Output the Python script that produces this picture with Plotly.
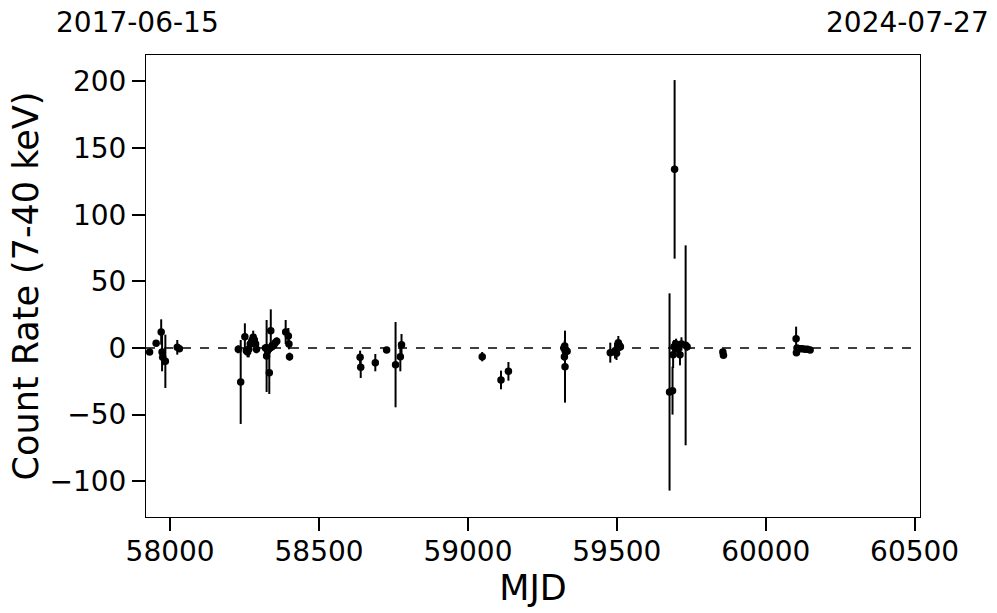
import plotly.graph_objects as go

mjd = [57931, 57953, 57970, 57973, 57975, 57984, 58024, 58031,
       58229, 58237, 58251, 58256, 58260, 58264, 58269, 58274, 58279, 58283, 58287, 58290,
       58320, 58324, 58327, 58333, 58335, 58338, 58342, 58348, 58353, 58358,
       58388, 58397, 58399, 58401,
       58638, 58640, 58689, 58727, 58757, 58773, 58777,
       59048, 59111, 59136,
       59322, 59324, 59325, 59326, 59327, 59333,
       59478, 59494, 59499, 59502, 59505, 59508, 59512,
       59677, 59687, 59689, 59692, 59694, 59699, 59705, 59712, 59717, 59731, 59736,
       59856, 59858, 60102, 60103, 60105, 60115, 60123, 60132, 60140, 60149]
rate = [-3, 3.5, 12, -3, -7, -10, 0.5, -0.5,
        -1, -25.5, 8.5, -2, -3, -1, 3, 5, 8, 6, 3, -1,
        0, -6, -2, -18.5, 0, 13, 1, 2, 4, 5,
        12, 9, 3, -6.5,
        -7, -14.5, -11, -1.5, -12.5, -6.5, 2.5,
        -6.5, -24, -17.5,
        0, -6.5, 1.5, -14, -2.5, -2.5,
        -3.5, -2, -4, 0, 4, 2, 1,
        -33, -32, -5, 1, 134, 3, -1, -5, 3, 2, 1,
        -3, -5.5, 7, -3.5, 0, -0.5, -0.5, -1, -1, -1.5]
rate_err = [2, 2, 9.5, 14.5, 6, 20, 5.5, 2,
            3, 31.5, 10, 3, 4, 6, 5, 4, 5, 3, 3, 3,
            3, 27, 5, 16, 4, 16, 3, 3, 3, 3,
            9, 6, 4, 3,
            5, 8, 6.5, 1.5, 32, 11, 8,
            3.5, 7, 7,
            3, 3, 4, 27, 3, 2,
            7.5, 6, 5, 4, 5, 3, 3,
            74, 18, 10, 5, 67, 4, 5, 8, 5, 75, 3,
            2, 2, 9, 2, 2, 2, 1.5, 1.5, 1.5, 1.5]

x_range = [57919, 60518]
y_range = [-126.8, 219.8]
top_labels = ["2017-06-15", "2024-07-27"]
x_ticks = [58000, 58500, 59000, 59500, 60000, 60500]
x_ticktext = ["58000", "58500", "59000", "59500", "60000", "60500"]
y_ticks = [-100, -50, 0, 50, 100, 150, 200]
y_ticktext = ["\u2212100", "\u221250", "0", "50", "100", "150", "200"]

fig = go.Figure()
fig.add_trace(go.Scatter(
    x=mjd, y=rate, mode="markers",
    marker=dict(color="black", size=7.5),
    error_y=dict(type="data", array=rate_err, visible=True, color="black",
                 thickness=2, width=0),
    showlegend=False,
))

fig.add_shape(type="line", xref="paper", yref="y", x0=0, x1=1, y0=0, y1=0,
              line=dict(color="black", width=1.3, dash="dash"))

fnt = "DejaVu Sans"
axis_common = dict(showline=True, linecolor="black", linewidth=1, mirror=True,
                   ticks="outside", ticklen=13, tickwidth=2, tickcolor="black",
                   showgrid=False, zeroline=False, automargin=False,
                   tickfont=dict(family=fnt, size=28, color="black"))
fig.update_xaxes(range=x_range, tickvals=x_ticks, ticktext=x_ticktext,
                 ticklabelstandoff=-4,
                 title=dict(text="MJD", font=dict(family=fnt, size=35, color="black"),
                            standoff=1),
                 **axis_common)
fig.update_yaxes(range=y_range, tickvals=y_ticks, ticktext=y_ticktext,
                 title=dict(text="Count Rate (7-40 keV)",
                            font=dict(family=fnt, size=35, color="black"), standoff=0),
                 **axis_common)

fig.add_annotation(x=x_range[0], y=1, xref="x", yref="paper", text=top_labels[0],
                   showarrow=False, yanchor="bottom", xanchor="center", xshift=-9, yshift=14,
                   font=dict(family=fnt, size=28, color="black"))
fig.add_annotation(x=x_range[1], y=1, xref="x", yref="paper", text=top_labels[1],
                   showarrow=False, yanchor="bottom", xanchor="center", xshift=-13, yshift=14,
                   font=dict(family=fnt, size=28, color="black"))

fig.update_layout(width=997, height=613, plot_bgcolor="white", paper_bgcolor="white",
                  margin=dict(l=145.5, r=77, t=55, b=96))
fig.write_html("out.html", config={"displayModeBar": False},
               post_script="document.body.style.margin='0px';")
